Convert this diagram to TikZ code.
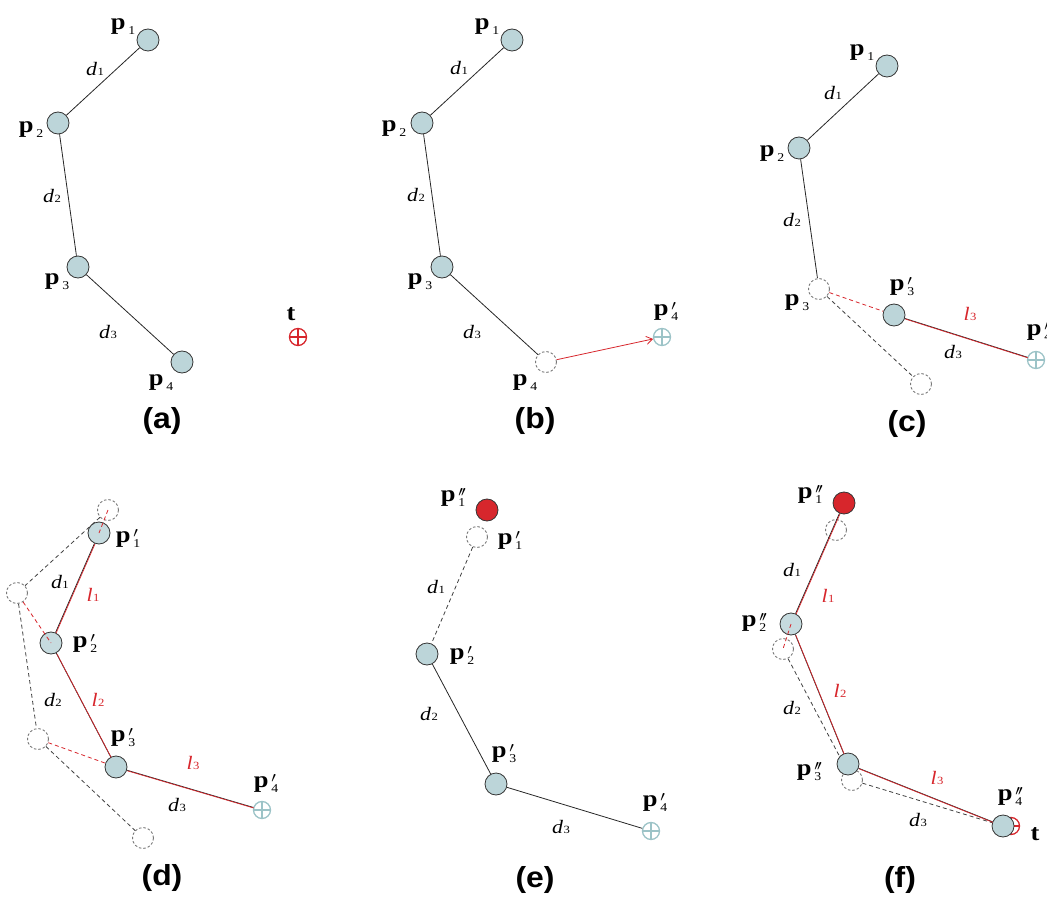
\documentclass[tikz,border=0pt]{standalone}
\usepackage{graphicx}
\usepackage{fontspec}
\setmainfont{Liberation Serif}
\newfontfamily\capfont{Liberation Sans}
\usetikzlibrary{arrows.meta}
\definecolor{jfill}{HTML}{BCD5D9}
\definecolor{jdraw}{HTML}{353535}
\definecolor{ired}{HTML}{D7262C}
\definecolor{tgtcol}{HTML}{9CC3C7}
\definecolor{ghost}{HTML}{7A7A7A}
\newcommand{\hs}[1]{\scalebox{1.15}[1]{#1}}
\newcommand{\pname}[2]{\hs{\fontsize{23}{23}\selectfont\textbf{p}\kern2.5pt\rlap{\raisebox{5pt}{\fontsize{15}{15}\selectfont$#2$}}\raisebox{-5pt}{\fontsize{12}{12}\selectfont #1}}}
\newcommand{\dn}[2]{\hs{\fontsize{19}{19}\selectfont\textit{#1}\kern0.3pt{\fontsize{11}{11}\selectfont #2}}}
\newcommand{\capt}[1]{\scalebox{1.1}[1]{\capfont\bfseries\fontsize{29}{29}\selectfont (#1)}}
\newcommand{\tname}{\hs{\fontsize{23}{23}\selectfont\textbf{t}}}
\newcommand{\pr}{\prime}
\newcommand{\ppr}{\prime\mkern-2mu\prime}
\tikzset{
  jt/.style={circle, draw=jdraw, fill=jfill, line width=0.8pt, minimum size=22pt, inner sep=0pt},
  rjt/.style={circle, draw=jdraw, fill=ired, line width=0.8pt, minimum size=22pt, inner sep=0pt},
  ghostc/.style={circle, draw=ghost, dash pattern=on 2.5pt off 2pt, line width=0.9pt, minimum size=21pt, inner sep=0pt},
  tgt/.style={circle, draw=#1, line width=1.3pt, minimum size=17pt, inner sep=0pt,
    path picture={\draw[#1, line width=1.3pt] (path picture bounding box.north) -- (path picture bounding box.south)
      (path picture bounding box.west) -- (path picture bounding box.east);}},
  bone/.style={draw=black!85, line width=0.8pt},
  redbone/.style={draw=ired, line width=0.7pt},
  olddash/.style={draw=black!75, dash pattern=on 4pt off 3pt, line width=0.8pt},
  reddash/.style={draw=ired, dash pattern=on 4pt off 3pt, line width=0.8pt},
  lab/.style={inner sep=0pt},
  rlab/.style={inner sep=0pt, text=ired},
}
\newcommand{\rb}[2]{\draw[bone] (#1) -- (#2);\draw[redbone, transform canvas={xshift=0.5pt,yshift=-0.6pt}] (#1) -- (#2);}
\begin{document}
\begin{tikzpicture}[x=1pt,y=-1pt]
\useasboundingbox (0,0) rectangle (1047,904);
\clip (0,0) rectangle (1047,904);

% ---------------- (a)
\node[jt] (a1) at (148,40) {};
\node[jt] (a2) at (58,123) {};
\node[jt] (a3) at (78,267) {};
\node[jt] (a4) at (182,362) {};
\node[tgt=ired] (at) at (298,337) {};
\draw[bone] (a1) -- (a2);
\draw[bone] (a2) -- (a3);
\draw[bone] (a3) -- (a4);
\node[lab] (la1) at (123,27) {\pname{1}{}};
\node[lab] (la2) at (31,130) {\pname{2}{}};
\node[lab] (la3) at (57,282) {\pname{3}{}};
\node[lab] (la4) at (161,383) {\pname{4}{}};
\node[lab] (lat) at (291,314) {\tname};
\node[lab] (lad1) at (95,69) {\dn{d}{1}};
\node[lab] (lad2) at (52,196) {\dn{d}{2}};
\node[lab] (lad3) at (108,332) {\dn{d}{3}};
\node[lab] (capa) at (162,421) {\capt{a}};

% ---------------- (b)
\node[jt] (b1) at (512,40) {};
\node[jt] (b2) at (422,123) {};
\node[jt] (b3) at (442,267) {};
\node[ghostc] (b4) at (546,362) {};
\node[tgt=tgtcol] (bt) at (662,337) {};
\draw[bone] (b1) -- (b2);
\draw[bone] (b2) -- (b3);
\draw[bone] (b3) -- (b4);
\draw[draw=ired, line width=0.8pt, -{Straight Barb[length=6pt,width=8pt]}] (b4) -- (bt);
\node[lab] (lb1) at (487,27) {\pname{1}{}};
\node[lab] (lb2) at (394,129) {\pname{2}{}};
\node[lab] (lb3) at (420,282) {\pname{3}{}};
\node[lab] (lb4) at (525,383) {\pname{4}{}};
\node[lab] (lb4p) at (666,311) {\pname{4}{\pr}};
\node[lab] (lbd1) at (459,68) {\dn{d}{1}};
\node[lab] (lbd2) at (416,195) {\dn{d}{2}};
\node[lab] (lbd3) at (472,332) {\dn{d}{3}};
\node[lab] (capb) at (535,421) {\capt{b}};

% ---------------- (c)
\node[jt] (c1) at (887,66) {};
\node[jt] (c2) at (799,148) {};
\node[ghostc] (c3) at (819,289) {};
\node[ghostc] (c4) at (921,384) {};
\node[jt] (c3p) at (894,315) {};
\node[tgt=tgtcol] (c4p) at (1036,360) {};
\draw[olddash] (c3) -- (c4);
\draw[reddash] (c3) -- (c3p);
\draw[bone] (c1) -- (c2);
\draw[bone] (c2) -- (c3);
\rb{c3p}{c4p}
\node[lab] (lc1) at (862,53) {\pname{1}{}};
\node[lab] (lc2) at (772,154) {\pname{2}{}};
\node[lab] (lc3) at (797,303) {\pname{3}{}};
\node[lab] (lc3p) at (902,287) {\pname{3}{\pr}};
\node[lab] (lc4p) at (1039,331) {\pname{4}{\pr}};
\node[lab] (lcd1) at (833,93) {\dn{d}{1}};
\node[lab] (lcd2) at (792,220) {\dn{d}{2}};
\node[lab] (lcd3) at (953,352) {\dn{d}{3}};
\node[rlab] (lcl3) at (970,314) {\dn{l}{3}};
\node[lab] (capc) at (907,424) {\capt{c}};

% ---------------- (d)
\node[ghostc] (do1) at (108,510) {};
\node[ghostc] (do2) at (17,593) {};
\node[ghostc] (do3) at (38,739) {};
\node[ghostc] (do4) at (143,838) {};
\coordinate (d1c) at (99,533);
\coordinate (d2c) at (51,643);
\coordinate (d3c) at (116,767);
\draw[olddash] (do1) -- (do2);
\draw[olddash] (do2) -- (do3);
\draw[olddash] (do3) -- (do4);
\draw[reddash] (do3) -- (d3c);
\node[jt, fill opacity=0.85] (d1p) at (d1c) {};
\node[jt, fill opacity=0.85] (d2p) at (d2c) {};
\node[jt] (d3p) at (d3c) {};
\node[tgt=tgtcol] (d4p) at (262,810) {};
\draw[reddash] (do1.center) -- (d1c);
\draw[reddash] (do2) -- (d2c);
\rb{d1p}{d2p}
\rb{d2p}{d3p}
\rb{d3p}{d4p}
\node[lab] (ld1) at (128,538) {\pname{1}{\pr}};
\node[lab] (ld2) at (85,643) {\pname{2}{\pr}};
\node[lab] (ld3) at (123,738) {\pname{3}{\pr}};
\node[lab] (ld4) at (266,783) {\pname{4}{\pr}};
\node[lab] (ldd1) at (60,582) {\dn{d}{1}};
\node[rlab] (ldl1) at (93,595) {\dn{l}{1}};
\node[lab] (ldd2) at (53,700) {\dn{d}{2}};
\node[rlab] (ldl2) at (98,700) {\dn{l}{2}};
\node[rlab] (ldl3) at (193,763) {\dn{l}{3}};
\node[lab] (ldd3) at (177,805) {\dn{d}{3}};
\node[lab] (capd) at (162,878) {\capt{d}};

% ---------------- (e)
\node[rjt] (e1pp) at (487,510) {};
\node[ghostc] (e1p) at (477,537) {};
\node[jt] (e2p) at (427,654) {};
\node[jt] (e3p) at (496,784) {};
\node[tgt=tgtcol] (e4p) at (651,831) {};
\draw[olddash] (e1p) -- (e2p);
\draw[bone] (e2p) -- (e3p);
\draw[bone] (e3p) -- (e4p);
\node[lab] (le1pp) at (453,497) {\pname{1}{\ppr}};
\node[lab] (le1p) at (510,540) {\pname{1}{\pr}};
\node[lab] (le2p) at (462,655) {\pname{2}{\pr}};
\node[lab] (le3p) at (504,754) {\pname{3}{\pr}};
\node[lab] (le4p) at (655,802) {\pname{4}{\pr}};
\node[lab] (led1) at (436,587) {\dn{d}{1}};
\node[lab] (led2) at (429,714) {\dn{d}{2}};
\node[lab] (led3) at (561,827) {\dn{d}{3}};
\node[lab] (cape) at (535,880) {\capt{e}};

% ---------------- (f)
\node[ghostc] (fo1) at (836,530) {};
\node[ghostc] (fo2) at (783,649) {};
\node[ghostc] (fo3) at (852,780) {};
\node[tgt=ired] (ft) at (1011,826) {};
\coordinate (f2c) at (791,624);
\draw[olddash] (fo2) -- (fo3);
\node[rjt] (f1pp) at (844,503) {};
\node[jt, fill opacity=0.85] (f2pp) at (f2c) {};
\node[jt] (f3pp) at (848,764) {};
\node[jt] (f4pp) at (1003,826) {};
\draw[olddash] (fo3) -- (f4pp);
\draw[reddash] (f2c) -- (fo2.center);
\rb{f1pp}{f2pp}
\rb{f2pp}{f3pp}
\rb{f3pp}{f4pp}
\node[lab] (lf1) at (810,494) {\pname{1}{\ppr}};
\node[lab] (lf2) at (754,622) {\pname{2}{\ppr}};
\node[lab] (lf3) at (809,772) {\pname{3}{\ppr}};
\node[lab] (lf4) at (1010,796) {\pname{4}{\ppr}};
\node[lab] (lft) at (1035,834) {\tname};
\node[lab] (lfd1) at (792,570) {\dn{d}{1}};
\node[rlab] (lfl1) at (828,596) {\dn{l}{1}};
\node[rlab] (lfl2) at (840,691) {\dn{l}{2}};
\node[lab] (lfd2) at (792,708) {\dn{d}{2}};
\node[rlab] (lfl3) at (937,778) {\dn{l}{3}};
\node[lab] (lfd3) at (918,820) {\dn{d}{3}};
\node[lab] (capf) at (900,880) {\capt{f}};
\end{tikzpicture}
\end{document}
